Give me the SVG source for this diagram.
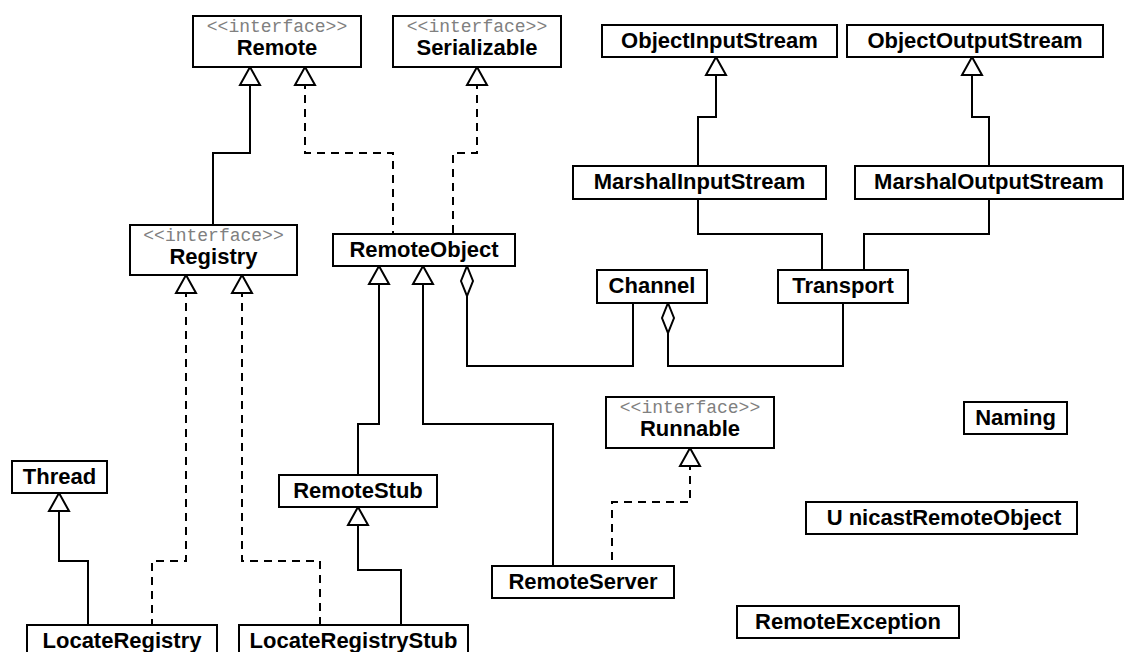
<svg xmlns="http://www.w3.org/2000/svg" width="1126" height="652" viewBox="0 0 1126 652">
<style>
.box{fill:#fff;stroke:#000;stroke-width:2}
.name{font-family:"Liberation Sans",Arial,sans-serif;font-weight:bold;font-size:22px;text-anchor:middle;fill:#000}
.st{font-family:"Liberation Mono","Courier New",monospace;font-size:18px;fill:#808080;text-anchor:middle}
.c{fill:none;stroke:#000;stroke-width:2}
.d{stroke-dasharray:8 6}
.gen{marker-start:url(#tri)}
.agg{marker-start:url(#dia)}
</style>
<defs>
<marker id="tri" markerUnits="userSpaceOnUse" orient="auto" refX="0" refY="0" markerWidth="24" markerHeight="26" viewBox="-2 -12 24 24" overflow="visible">
<path d="M0,0 L18,-10 L18,10 Z" fill="#fff" stroke="#000" stroke-width="2" stroke-dasharray="none"/>
</marker>
<marker id="dia" markerUnits="userSpaceOnUse" orient="auto" refX="0" refY="0" markerWidth="34" markerHeight="16" viewBox="-2 -8 34 16" overflow="visible">
<path d="M0,0 L15,-6 L30,0 L15,6 Z" fill="#fff" stroke="#000" stroke-width="2"/>
</marker>
</defs>
<rect width="1126" height="652" fill="#fff"/>
<g id="connectors">
<path class="c gen" d="M250,67 V153 H213 V225"/>
<path class="c d gen" d="M305,67 V153 H393 V234"/>
<path class="c d gen" d="M477,67 V153 H453 V234"/>
<path class="c gen" d="M716,57 V117 H698 V166"/>
<path class="c gen" d="M972,57 V117 H989 V166"/>
<path class="c" d="M698,199 V234 H822 V270"/>
<path class="c" d="M989,199 V234 H864 V270"/>
<path class="c agg" d="M467,266 V366 H633 V303"/>
<path class="c agg" d="M668,303 V366 H843 V303"/>
<path class="c gen" d="M379,266 V424 H358 V475"/>
<path class="c gen" d="M423,266 V424 H553 V566"/>
<path class="c d gen" d="M186,275 V561 H152 V625"/>
<path class="c d gen" d="M242,275 V561 H320 V625"/>
<path class="c gen" d="M59,493 V561 H88 V625"/>
<path class="c gen" d="M358,507 V570 H401 V625"/>
<path class="c d gen" d="M690,448 V502 H612 V566"/>
</g>
<g id="Remote"><rect class="box" x="193" y="16" width="168" height="51"/><text class="st" x="277" y="32">&lt;&lt;interface&gt;&gt;</text><text class="name" x="277" y="54.5">Remote</text></g>
<g id="Serializable"><rect class="box" x="393" y="16" width="168" height="51"/><text class="st" x="477" y="32">&lt;&lt;interface&gt;&gt;</text><text class="name" x="477" y="54.5">Serializable</text></g>
<g id="ObjectInputStream"><rect class="box" x="602" y="25" width="235" height="32"/><text class="name" x="719.5" y="48">ObjectInputStream</text></g>
<g id="ObjectOutputStream"><rect class="box" x="847" y="25" width="256" height="32"/><text class="name" x="975" y="48">ObjectOutputStream</text></g>
<g id="MarshalInputStream"><rect class="box" x="573" y="166" width="253" height="33"/><text class="name" x="699.5" y="189">MarshalInputStream</text></g>
<g id="MarshalOutputStream"><rect class="box" x="855" y="166" width="268" height="33"/><text class="name" x="989" y="189">MarshalOutputStream</text></g>
<g id="Registry"><rect class="box" x="130" y="225" width="167" height="50"/><text class="st" x="213.5" y="241">&lt;&lt;interface&gt;&gt;</text><text class="name" x="213.5" y="263.5">Registry</text></g>
<g id="RemoteObject"><rect class="box" x="333" y="234" width="182" height="32"/><text class="name" x="424" y="257">RemoteObject</text></g>
<g id="Channel"><rect class="box" x="597" y="270" width="110" height="33"/><text class="name" x="652" y="293">Channel</text></g>
<g id="Transport"><rect class="box" x="778" y="270" width="130" height="33"/><text class="name" x="843" y="293">Transport</text></g>
<g id="Runnable"><rect class="box" x="606" y="397" width="168" height="51"/><text class="st" x="690" y="413">&lt;&lt;interface&gt;&gt;</text><text class="name" x="690" y="435.5">Runnable</text></g>
<g id="Naming"><rect class="box" x="964" y="402" width="103" height="32"/><text class="name" x="1015.5" y="425">Naming</text></g>
<g id="Thread"><rect class="box" x="12" y="461" width="95" height="32"/><text class="name" x="59.5" y="484">Thread</text></g>
<g id="RemoteStub"><rect class="box" x="279" y="475" width="158" height="32"/><text class="name" x="358" y="498">RemoteStub</text></g>
<g id="UnicastRemoteObject"><rect class="box" x="806" y="502" width="271" height="32"/><text class="name" x="944" y="525" xml:space="preserve">U nicastRemoteObject</text></g>
<g id="RemoteServer"><rect class="box" x="492" y="566" width="182" height="32"/><text class="name" x="583" y="589">RemoteServer</text></g>
<g id="RemoteException"><rect class="box" x="737" y="606" width="222" height="32"/><text class="name" x="848" y="629">RemoteException</text></g>
<g id="LocateRegistry"><rect class="box" x="27" y="625" width="190" height="33"/><text class="name" x="122" y="648">LocateRegistry</text></g>
<g id="LocateRegistryStub"><rect class="box" x="239" y="625" width="229" height="33"/><text class="name" x="353.5" y="648">LocateRegistryStub</text></g>
</svg>
